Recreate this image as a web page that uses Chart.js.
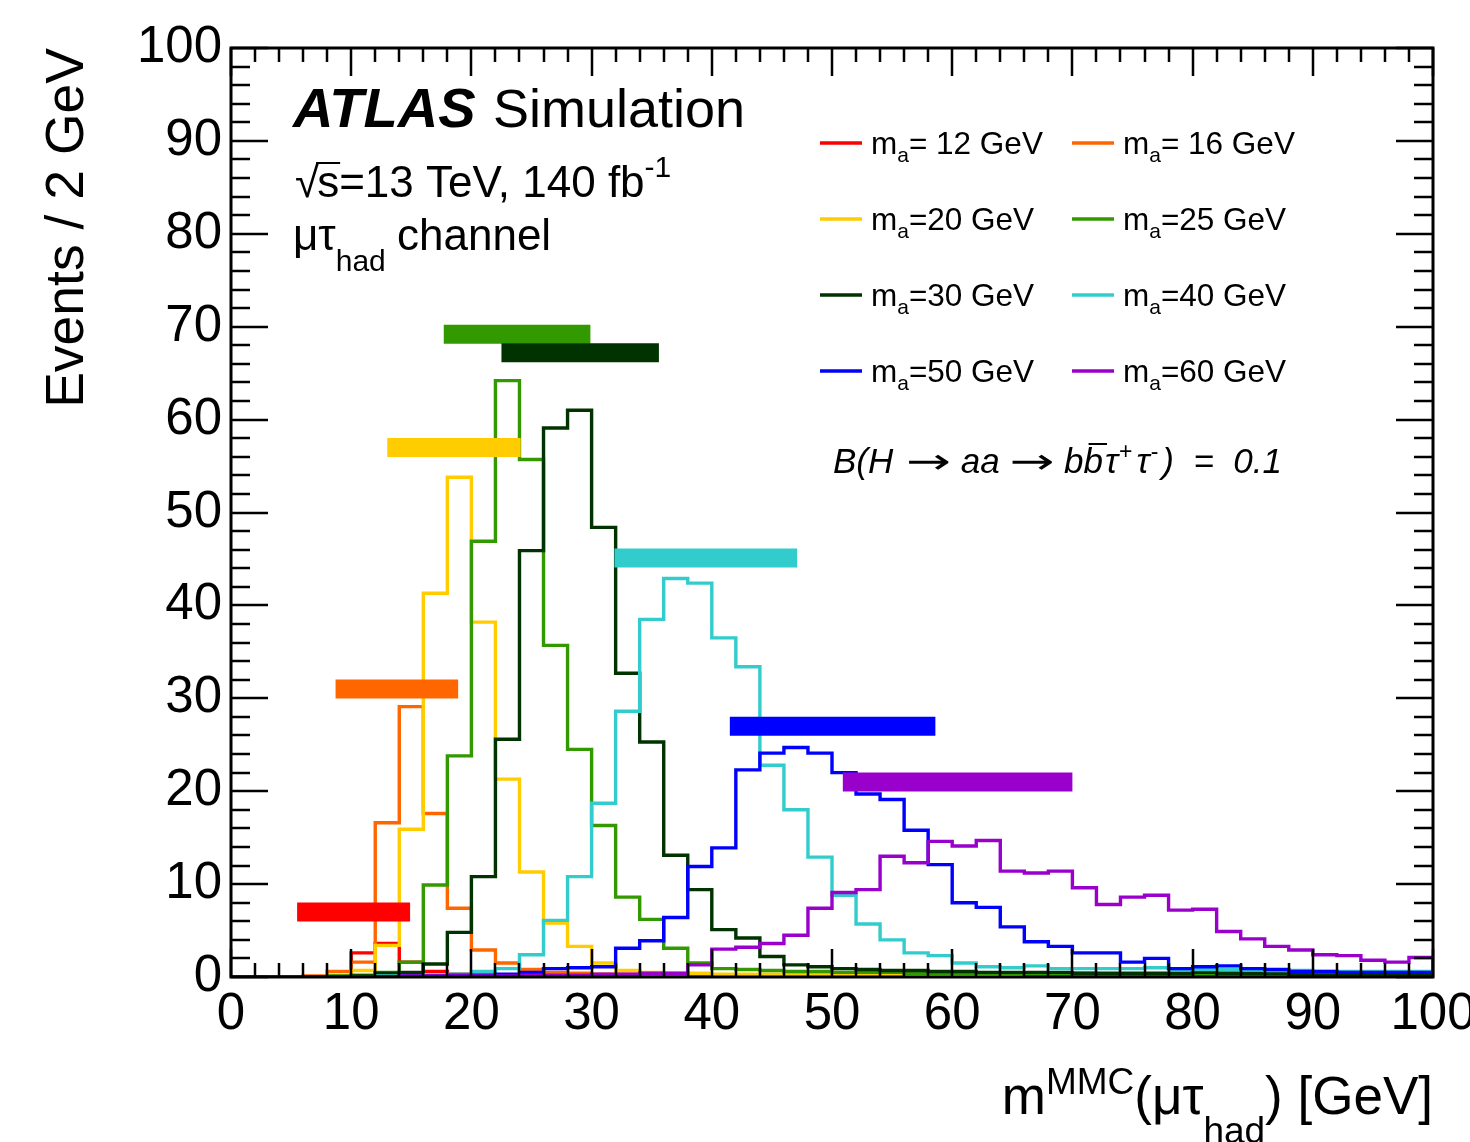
<!DOCTYPE html>
<html><head><meta charset="utf-8">
<script src="https://cdn.jsdelivr.net/npm/chart.js@4/dist/chart.umd.min.js"></script>
<style>html,body{margin:0;padding:0;background:#fff;overflow:hidden}</style>
</head><body>
<canvas id="c" width="1470" height="1142"></canvas>
<script>
// ---- categories (bin low edges, GeV) ----
const binLowEdges = [0,2,4,6,8,10,12,14,16,18,20,22,24,26,28,30,32,34,36,38,40,42,44,46,48,50,52,54,56,58,60,62,64,66,68,70,72,74,76,78,80,82,84,86,88,90,92,94,96,98];
const binUpperEdge = 100;

// ---- series values: events / 2 GeV ----
const h12 = [0,0,0,0,0.1, 2.6,3.6,1.6,0.6,0.3, 0.2,0.2,0.1,0.1,0.1, 0.1,0.1,0,0,0, 0,0,0,0,0, 0,0,0,0,0, 0,0,0,0,0, 0,0,0,0,0, 0,0,0,0,0, 0,0,0,0,0];
const h16 = [0,0,0,0.1,0.6, 1.6,16.6,29.1,17.6,7.4, 2.9,1.5,0.8,0.5,0.4, 0.3,0.3,0.2,0.2,0.2, 0.2,0.1,0.1,0.1,0.1, 0.1,0.1,0.1,0.1,0.1, 0.1,0.1,0.1,0.1,0.1, 0.4,0.1,0.1,0.1,0.1, 0.1,0.1,0.1,0.1,0.1, 0.1,0.1,0.1,0.1,0.1];
const h20 = [0,0,0,0,0.1, 0.7,3.4,15.9,41.3,53.8, 38.2,21.3,11.3,5.8,3.3, 1.5,0.7,0.5,0.4,0.4, 0.3,0.3,0.3,0.3,0.3, 0.3,0.2,0.2,0.3,0.2, 0.2,0.2,0.2,0.2,0.2, 0.2,0.2,0.2,0.2,0.2, 0.6,0.7,0.3,0.2,0.2, 0.2,0.2,0.2,0.2,0.2];
const h25 = [0,0,0,0,0.1, 0.2,0.5,1.6,9.9,23.8, 46.9,64.2,55.7,35.7,24.5, 16.3,8.6,6.2,3.1,1.5, 0.9,0.8,0.7,0.6,0.6, 0.5,0.5,0.5,0.4,0.4, 0.4,0.4,0.4,0.3,0.3, 0.3,0.3,0.3,0.3,0.3, 0.3,0.3,0.3,0.3,0.3, 0.3,0.3,0.3,0.3,0.3];
const h30 = [0,0,0,0,0, 0.1,0.4,0.5,1.4,4.8, 10.8,25.6,45.9,59.1,61.0, 48.4,32.7,25.3,13.1,9.4, 5.1,4.2,2.2,1.3,1.1, 0.9,0.8,0.7,0.7,0.6, 0.6,0.5,0.5,0.5,0.5, 0.4,0.4,0.4,0.4,0.4, 0.5,0.4,0.4,0.4,0.3, 0.3,0.3,0.3,0.3,0.3];
const h40 = [0,0,0,0,0, 0,0.1,0.1,0.2,0.3, 0.6,0.9,2.4,6.1,10.8, 18.7,28.6,38.5,42.9,42.4, 36.5,33.4,22.8,18.0,12.9, 8.8,5.7,4.0,2.6,2.3, 1.5,1.1,1.0,1.2,0.9, 0.9,0.9,0.9,1.0,0.8, 0.8,0.8,0.8,0.7,0.7, 0.6,0.6,0.6,0.6,0.6];
const h50 = [0,0,0,0,0, 0,0,0.1,0.1,0.2, 0.2,0.3,0.5,0.9,1.0, 1.1,3.1,3.9,6.4,11.9, 13.9,22.3,24.1,24.7,24.1, 22.0,19.7,19.1,15.8,12.1, 8.0,7.5,5.4,3.8,3.3, 2.6,2.6,1.6,2.0,0.9, 1.1,1.2,0.9,0.8,0.6, 0.6,0.5,0.5,0.5,0.5];
const h60 = [0,0,0,0,0, 0,0,0.1,0.1,0.1, 0.1,0.1,0.2,0.2,0.2, 0.3,0.3,0.4,0.4,1.3, 3.0,3.2,3.6,4.5,7.4, 9.1,9.4,13.0,12.3,14.6, 14.1,14.7,11.4,11.2,11.4, 9.6,7.8,8.6,8.8,7.2, 7.3,4.9,4.1,3.3,2.9, 2.4,2.3,1.8,1.6,2.1];

// ---- mass-window marker bands ----
const markerLow   = [5.5, 8.7, 13.0, 17.7, 22.5, 31.9, 41.5, 50.9];
const markerHigh  = [14.9, 18.9, 24.1, 29.9, 35.6, 47.1, 58.6, 70.0];
const markerLevel = [7.0, 31.0, 57.0, 69.2, 67.2, 45.1, 27.0, 21.0];

// ---- labels ----
const massLabelTail = ['= 12 GeV','= 16 GeV','=20 GeV','=25 GeV','=30 GeV','=40 GeV','=50 GeV','=60 GeV'];
const xTickStep = 10, yTickStep = 10, minorStep = 2;

const series = [h12,h16,h20,h25,h30,h40,h50,h60];
const colors = ['#ff0000','#ff6600','#ffcc00','#339900','#003300','#33cccc','#0000ff','#9900cc'];
const FONT = '"Liberation Sans", Arial, Helvetica, sans-serif';
const SYM = '"DejaVu Sans", sans-serif';

function histPoints(vals){
  const pts = [{x: binLowEdges[0], y: 0}];
  vals.forEach((v,i)=>{
    const lo = binLowEdges[i];
    const hi = i+1 < binLowEdges.length ? binLowEdges[i+1] : binUpperEdge;
    pts.push({x: lo, y: v}, {x: hi, y: v});
  });
  pts.push({x: binUpperEdge, y: 0});
  return pts;
}

const datasets = [];
series.forEach((vals,i)=>{
  datasets.push({
    label: 'm_a' + massLabelTail[i],
    data: histPoints(vals),
    borderColor: colors[i], borderWidth: 3.4, pointRadius: 0, fill: false, tension: 0,
    borderJoinStyle: 'miter',
    order: 20 - i
  });
});
markerLevel.forEach((lvl,i)=>{
  datasets.push({
    label: 'window' + i,
    data: [{x: markerLow[i], y: lvl}, {x: markerHigh[i], y: lvl}],
    borderColor: colors[i], borderWidth: 19, borderCapStyle: 'butt', pointRadius: 0, fill: false,
    order: 10 - i
  });
});

function runs(ctx, x, y, parts, measureOnly){
  let w = 0;
  for (const [t, f, dy, gap] of parts){
    ctx.font = f;
    if (!measureOnly) ctx.fillText(t, x + w, y + (dy||0));
    w += ctx.measureText(t).width + (gap||0);
  }
  return w;
}
function wideArrow(ctx, x, y, font, width){
  ctx.font = font;
  const w = ctx.measureText('\u2192').width;
  ctx.save();
  ctx.translate(x, y);
  ctx.scale(width / w, 1);
  ctx.fillText('\u2192', 0, 0);
  ctx.restore();
  return width;
}

const decor = {
  id: 'decor',
  afterDraw(chart){
    const {ctx, chartArea: a, scales: {x, y}} = chart;
    ctx.save();
    // frame + inward ticks
    ctx.strokeStyle = '#000';
    ctx.lineWidth = 3;
    ctx.strokeRect(a.left, a.top, a.right - a.left, a.bottom - a.top);
    ctx.lineWidth = 2.5;
    ctx.beginPath();
    for (let v = x.min; v <= x.max + 1e-9; v += minorStep){
      const px = Math.round(x.getPixelForValue(v));
      const len = (Math.abs(v % xTickStep) < 1e-6) ? 28 : 14;
      ctx.moveTo(px, a.bottom); ctx.lineTo(px, a.bottom - len);
      ctx.moveTo(px, a.top); ctx.lineTo(px, a.top + len);
    }
    for (let v = y.min; v <= y.max + 1e-9; v += minorStep){
      const py = Math.round(y.getPixelForValue(v));
      const len = (Math.abs(v % yTickStep) < 1e-6) ? 37 : 19;
      ctx.moveTo(a.left, py); ctx.lineTo(a.left + len, py);
      ctx.moveTo(a.right, py); ctx.lineTo(a.right - len, py);
    }
    ctx.stroke();

    ctx.fillStyle = '#000';
    ctx.textAlign = 'left';
    ctx.textBaseline = 'alphabetic';
    // ATLAS Simulation
    ctx.font = 'italic bold 56px ' + FONT;
    ctx.fillText('ATLAS', 293, 127);
    ctx.font = '54px ' + FONT;
    ctx.fillText('Simulation', 493, 127);
    // sqrt(s) line
    ctx.font = '44px ' + FONT;
    const sq = '\u221A';
    ctx.fillText(sq, 295, 197);
    const sqW = ctx.measureText(sq).width;
    ctx.fillText('s', 295 + sqW - 2, 197);
    const sW = ctx.measureText('s').width;
    ctx.lineWidth = 2;
    ctx.beginPath(); ctx.moveTo(295 + sqW - 3, 163); ctx.lineTo(295 + sqW - 2 + sW + 1, 163); ctx.stroke();
    runs(ctx, 295 + sqW - 2 + sW, 197, [['=13 TeV, 140 fb', '44px ' + FONT, 0], ['-1', '30px ' + FONT, -20]]);
    // channel line
    runs(ctx, 293, 250, [['\u03BC\u03C4', '44px ' + FONT, 0], ['had', '30px ' + FONT, 21]]);
    ctx.font = '44px ' + FONT;
    ctx.fillText('channel', 397, 250);

    // legend
    const rowY = [143, 219, 295, 371];
    const lineX = [820, 1072], textX = [871, 1123];
    for (let i = 0; i < series.length; i++){
      const r = Math.floor(i / 2), c = i % 2;
      ctx.strokeStyle = colors[i]; ctx.lineWidth = 3.4;
      ctx.beginPath(); ctx.moveTo(lineX[c], rowY[r]); ctx.lineTo(lineX[c] + 42, rowY[r]); ctx.stroke();
      runs(ctx, textX[c], rowY[r] + 11, [['m', '31.5px ' + FONT, 0], ['a', '21px ' + FONT, 8], [massLabelTail[i], '31.5px ' + FONT, 0]]);
    }
    // branching ratio
    const it = 'italic 35px ' + FONT, sup = '23px ' + FONT, arr = '35px ' + SYM;
    let bx = 833; const by = 473;
    bx += runs(ctx, bx, by, [['B(H ', it, 0, 3]]);
    bx += wideArrow(ctx, bx, by, arr, 45);
    bx += runs(ctx, bx, by, [[' aa ', it, 0]]);
    bx += wideArrow(ctx, bx, by, arr, 45);
    bx += runs(ctx, bx, by, [[' b', it, 0]]);
    ctx.font = it;
    const bW = ctx.measureText('b').width;
    ctx.fillText('b', bx, by);
    ctx.strokeStyle = '#000'; ctx.lineWidth = 2;
    ctx.beginPath(); ctx.moveTo(bx + 5, by - 29); ctx.lineTo(bx + bW + 4, by - 29); ctx.stroke();
    bx += bW + 2;
    runs(ctx, bx, by, [['\u03C4', it, 0, 1], ['+', sup, -14, 4], ['\u03C4', it, 0, 1], ['-', sup, -14, 4], [')  =  0.1', it, 0]]);

    // x axis title (right aligned)
    const xt = [['m', '53px ' + FONT, 0], ['MMC', '37px ' + FONT, -20], ['(\u03BC\u03C4', '53px ' + FONT, 0], ['had', '37px ' + FONT, 29], [') [GeV]', '53px ' + FONT, 0]];
    const xtW = runs(ctx, 0, 0, xt, true);
    runs(ctx, 1433 - xtW, 1114, xt);

    // y axis title
    ctx.save();
    ctx.translate(83, 48);
    ctx.rotate(-Math.PI / 2);
    ctx.textAlign = 'right';
    ctx.font = '53.5px ' + FONT;
    ctx.fillText('Events / 2 GeV', 0, 0);
    ctx.restore();

    ctx.restore();
  }
};

Chart.defaults.color = '#000';
new Chart(document.getElementById('c'), {
  type: 'line',
  data: { datasets },
  options: {
    responsive: false,
    animation: false,
    events: [],
    layout: { padding: { top: 48, right: 37, left: 0, bottom: 0 } },
    plugins: { legend: { display: false }, tooltip: { enabled: false } },
    scales: {
      x: {
        type: 'linear', min: 0, max: 100,
        grid: { display: false, drawTicks: false },
        border: { display: false },
        ticks: { stepSize: xTickStep, autoSkip: false, maxRotation: 0, padding: 7, color: '#000', font: { family: FONT, size: 51 } },
        afterFit(s){ s.height = 165; s.paddingLeft = 0; s.paddingRight = 0; }
      },
      y: {
        type: 'linear', min: 0, max: 100,
        grid: { display: false, drawTicks: false },
        border: { display: false },
        ticks: { stepSize: yTickStep, padding: 9, color: '#000', font: { family: FONT, size: 51 } },
        afterFit(s){ s.width = 231; s.paddingTop = 0; s.paddingBottom = 0; }
      }
    }
  },
  plugins: [decor]
});
</script>
</body></html>
